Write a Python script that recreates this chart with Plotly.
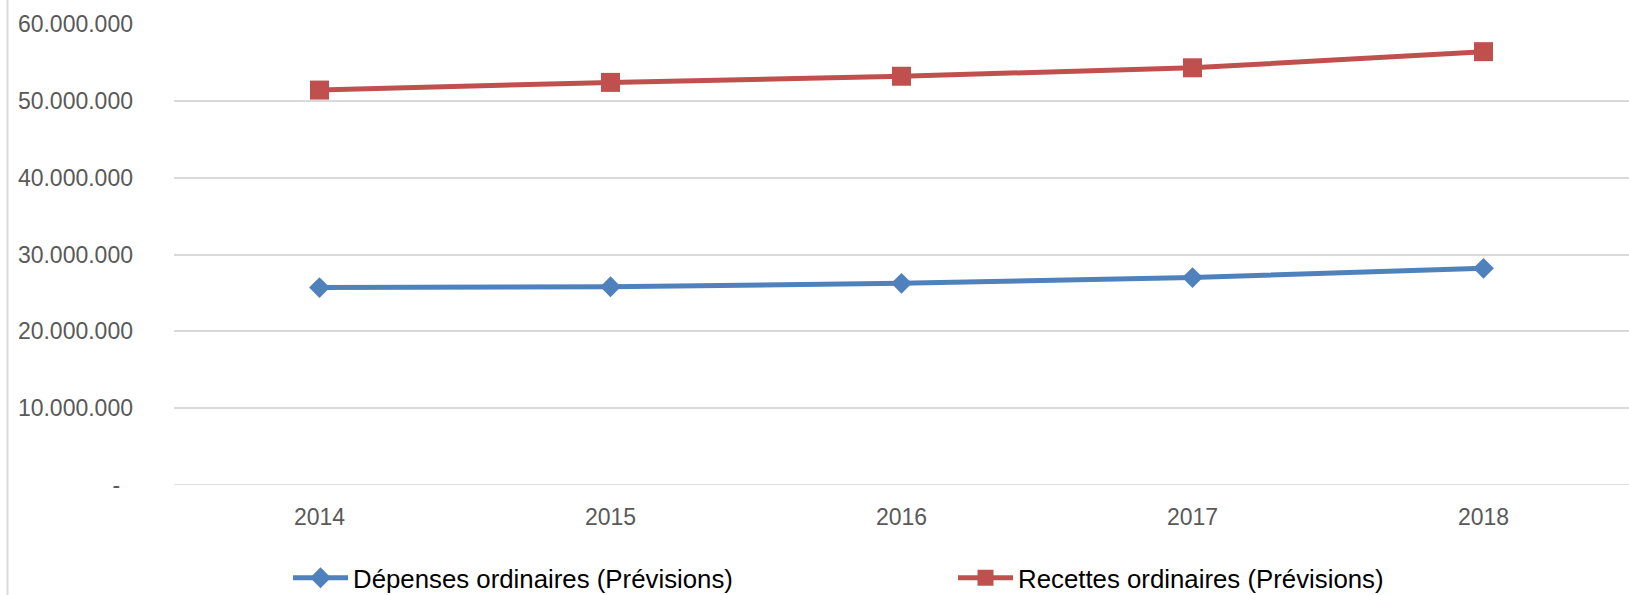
import plotly.graph_objects as go

years = [2014, 2015, 2016, 2017, 2018]
depenses = [25700000, 25800000, 26250000, 27000000, 28200000]
recettes = [51400000, 52400000, 53200000, 54300000, 56400000]
series_names = ["Dépenses ordinaires (Prévisions)", "Recettes ordinaires (Prévisions)"]
y_tickvals = [0, 10000000, 20000000, 30000000, 40000000, 50000000, 60000000]
y_ticktext = ["-\u00a0\u00a0", "10.000.000", "20.000.000", "30.000.000", "40.000.000", "50.000.000", "60.000.000"]

W, H = 1629, 595
L, R, T, B = 174, 0, 24, 110
pw, ph = W - L - R, H - T - B

fig = go.Figure()
fig.add_trace(go.Scatter(
    x=years, y=depenses, name=series_names[0], mode="lines+markers",
    line=dict(color="#4F81BD", width=5),
    marker=dict(symbol="diamond", size=16, color="#4F81BD"),
))
fig.add_trace(go.Scatter(
    x=years, y=recettes, name=series_names[1], mode="lines+markers",
    line=dict(color="#C0504D", width=5),
    marker=dict(symbol="square", size=19, color="#C0504D"),
))

font_family = "Liberation Sans, Arial, sans-serif"

fig.update_layout(
    width=W, height=H,
    margin=dict(l=L, r=R, t=T, b=B, pad=0, autoexpand=False),
    paper_bgcolor="white", plot_bgcolor="white",
    font=dict(family=font_family, size=23, color="#595959"),
    showlegend=True,
    legend=dict(
        orientation="h", x=(288 - L) / pw, xanchor="left",
        y=(H - B - 578) / ph, yanchor="middle",
        font=dict(family=font_family, size=25.8, color="#000000"),
        entrywidth=595, entrywidthmode="pixels",
        itemwidth=55, bgcolor="rgba(0,0,0,0)",
    ),
    xaxis=dict(
        range=[2013.5, 2018.5], tickvals=years, ticktext=[str(y) for y in years],
        showgrid=False, zeroline=False, showline=False, ticks="",
        ticklabelstandoff=16, tickfont=dict(size=23, color="#595959"),
    ),
    yaxis=dict(
        range=[0, 60000000], tickvals=y_tickvals, ticktext=y_ticktext,
        showgrid=True, gridcolor="#D9D9D9", gridwidth=1.5,
        zeroline=False, showline=False, ticks="",
        ticklabelstandoff=40, tickfont=dict(size=23, color="#595959"),
    ),
    shapes=[
        dict(type="line", xref="paper", yref="paper",
             x0=(7.5 - L) / pw, x1=(7.5 - L) / pw,
             y0=(H - B - H) / ph, y1=(H - B) / ph,
             line=dict(color="#D9D9D9", width=2)),
        dict(type="line", xref="paper", yref="y",
             x0=0, x1=1, y0=0, y1=0,
             line=dict(color="#D9D9D9", width=1.5), layer="below"),
    ],
)

fig.write_html(
    "out.html",
    config={"displayModeBar": False},
    post_script="document.body.style.margin='0';document.body.style.overflow='hidden';",
)
